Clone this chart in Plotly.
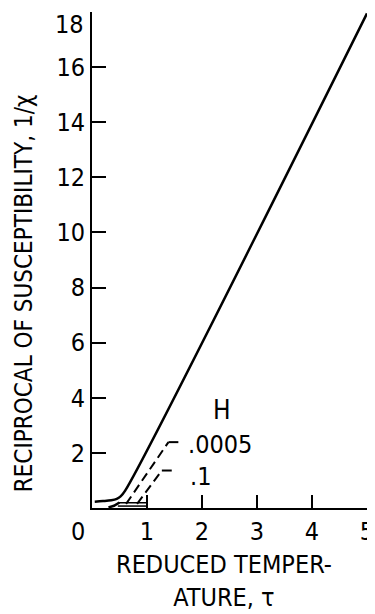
import plotly.graph_objects as go

# --- data ---
solid_tau = [0.05, 0.2, 0.35, 0.45, 0.52, 0.6, 5.0]
solid_inv = [0.23, 0.25, 0.28, 0.33, 0.42, 0.62, 17.95]

branch_tau = [0.3, 0.4, 0.5]
branch_inv = [0.02, 0.08, 0.2]

h0005_tau = [0.62, 0.8, 1.0, 1.39]
h0005_inv = [0.15, 0.68, 1.26, 2.39]
h0005_leader_tau = [1.39, 1.57]
h0005_leader_inv = [2.39, 2.39]

h1_tau = [0.82, 1.0, 1.27]
h1_inv = [0.15, 0.62, 1.36]
h1_leader_tau = [1.27, 1.45]
h1_leader_inv = [1.36, 1.36]

base_tau = [0.47, 1.0]
base_upper = [0.19, 0.19]
base_lower = [0.07, 0.07]

x_ticks = [1, 2, 3, 4, 5]
y_ticks = [2, 4, 6, 8, 10, 12, 14, 16, 18]
y_labels = ["2", "4", "6", "8", "10", "12", "14", "16", ""]

legend_title = "H"
legend_labels = [".0005", ".1"]
legend_tau = [2.33, 1.98]
legend_inv = [2.32, 1.15]

x_title_lines = ["REDUCED TEMPER-", "ATURE, τ"]
y_title = "RECIPROCAL OF SUSCEPTIBILITY, 1/χ"

FONT = "Liberation Sans Narrow, DejaVu Sans Condensed, Arial Narrow, DejaVu Sans, sans-serif"
BLACK = "black"

fig = go.Figure()
fig.add_trace(go.Scatter(x=solid_tau, y=solid_inv, mode="lines",
                         line=dict(color=BLACK, width=2.5), line_shape="spline"))
fig.add_trace(go.Scatter(x=branch_tau, y=branch_inv, mode="lines", line=dict(color=BLACK, width=2.5)))
dash = dict(color=BLACK, width=2, dash="9px,5px")
fig.add_trace(go.Scatter(x=h0005_tau, y=h0005_inv, mode="lines", line=dash))
fig.add_trace(go.Scatter(x=h1_tau, y=h1_inv, mode="lines", line=dash))
fig.add_trace(go.Scatter(x=h0005_leader_tau, y=h0005_leader_inv, mode="lines", line=dict(color=BLACK, width=2)))
fig.add_trace(go.Scatter(x=h1_leader_tau, y=h1_leader_inv, mode="lines", line=dict(color=BLACK, width=2)))
fig.add_trace(go.Scatter(x=base_tau, y=base_upper, mode="lines", line=dict(color=BLACK, width=1.5)))
fig.add_trace(go.Scatter(x=base_tau, y=base_lower, mode="lines", line=dict(color=BLACK, width=1.5)))

fig.add_annotation(x=2.36, y=3.56, text=legend_title, showarrow=False,
                   font=dict(family=FONT, size=26, color=BLACK))
for t, xx, yy in zip(legend_labels, legend_tau, legend_inv):
    fig.add_annotation(x=xx, y=yy, text=t, showarrow=False,
                       font=dict(family=FONT, size=25, color=BLACK))

# origin label and top y label
fig.add_annotation(x=0, y=0, text="0", showarrow=False, xshift=-14, yshift=-23,
                   font=dict(family=FONT, size=25, color=BLACK))
fig.add_annotation(x=0, y=18, text="18", showarrow=False, xanchor="right", xshift=-6, yshift=-12,
                   font=dict(family=FONT, size=25, color=BLACK))

# axis titles (placed as annotations)
fig.add_annotation(xref="paper", yref="paper", x=0.48, y=-0.147, yanchor="middle",
                   text="<br>".join(x_title_lines), showarrow=False, align="center",
                   font=dict(family=FONT, size=25, color=BLACK))
fig.add_annotation(xref="paper", x=-0.247, yref="paper", y=0.433, xanchor="center", yanchor="middle",
                   text=y_title, textangle=-90, showarrow=False,
                   font=dict(family=FONT, size=24, color=BLACK))

# page body has an 8px margin, so the figure is 8px smaller and shifted accordingly
fig.update_layout(
    width=367, height=606,
    margin=dict(l=84, r=8, t=4, b=106, autoexpand=False),
    paper_bgcolor="white", plot_bgcolor="white",
    showlegend=False,
    font=dict(family=FONT, size=25, color=BLACK),
    xaxis=dict(range=[0, 5], tickvals=x_ticks, ticks="inside", ticklen=13, tickwidth=2,
               tickcolor=BLACK, showline=True, linecolor=BLACK, linewidth=2,
               showgrid=False, zeroline=False, automargin=False),
    yaxis=dict(range=[0, 18], tickvals=y_ticks, ticktext=y_labels, ticks="inside", ticklen=14,
               tickwidth=2, tickcolor=BLACK, showline=True, linecolor=BLACK, linewidth=2,
               showgrid=False, zeroline=False, automargin=False),
)

fig.write_html("out.html")
